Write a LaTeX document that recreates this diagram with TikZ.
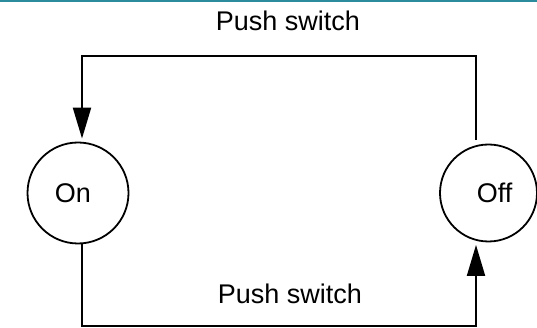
\documentclass[tikz,border=0pt]{standalone}
\usepackage{fontspec}
\setmainfont{Liberation Sans}
\usetikzlibrary{arrows.meta}
\definecolor{bar}{RGB}{42,140,156}
\begin{document}
\begin{tikzpicture}[x=1pt,y=-1pt,
  every node/.style={font=\fontsize{27}{32}\selectfont},
  state/.style={draw,circle,line width=1.8pt,inner sep=0pt},
  wire/.style={line width=2pt},
  tip/.style={-{Triangle[length=31pt,width=18pt]}},
  caption/.style={anchor=base,inner sep=0pt}]
\useasboundingbox (0,0) rectangle (537,328);
\fill[bar] (0,0) rectangle (537,2.5);

% the two states
\node[state,minimum size=101pt,label={[xshift=-5pt]center:On}] (on) at (78,193) {};
\node[state,minimum size=97pt,label={[xshift=6pt]center:Off}] (off) at (488.5,193) {};

% corners of the two transition paths
\coordinate (tl) at (82,56);
\coordinate (tr) at (476,56);
\coordinate (bl) at (82,326);
\coordinate (br) at (476,326);

% Off -> On across the top
\draw[wire,tip,shorten <=4pt,shorten >=3pt] (off.north -| tr) -- (tr) -- (tl) -- (on.north -| tl);
% On -> Off across the bottom
\draw[wire,tip,shorten >=2.5pt] (on.south -| bl) -- (bl) -- (br) -- (off.south -| br);

\node[caption] (ptop) at (288,31) {Push switch};
\node[caption] (pbot) at (290,303) {Push switch};
\end{tikzpicture}
\end{document}
